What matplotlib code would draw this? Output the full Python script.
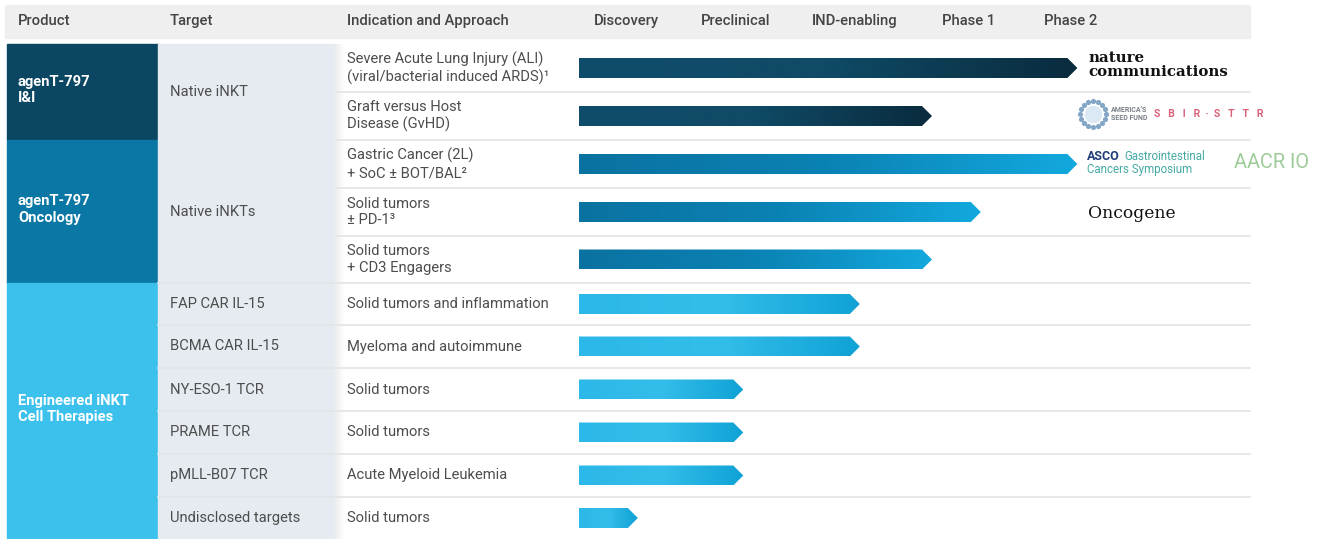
import matplotlib
matplotlib.use("Agg")
import matplotlib.pyplot as plt
import numpy as np
from matplotlib.patches import Polygon, Rectangle
from matplotlib.colors import LinearSegmentedColormap

plt.rcParams['font.family'] = ['Roboto', 'DejaVu Sans']

# ---------------- data ----------------
stages = ["Discovery", "Preclinical", "IND-enabling", "Phase 1", "Phase 2"]
products = ["agenT-797\nI&I", "agenT-797\nOncology", "Engineered iNKT\nCell Therapies"]
product_rows = [(0, 2), (2, 5), (5, 11)]          # row span of each product
targets_merged = [("Native iNKT", 0, 2), ("Native iNKTs", 2, 5)]
targets_single = ["FAP CAR IL-15", "BCMA CAR IL-15", "NY-ESO-1 TCR",
                  "PRAME TCR", "pMLL-B07 TCR", "Undisclosed targets"]
indications = [
    "Severe Acute Lung Injury (ALI)\n(viral/bacterial induced ARDS)\u00b9",
    "Graft versus Host\nDisease (GvHD)",
    "Gastric Cancer (2L)\n+ SoC \u00b1 BOT/BAL\u00b2",
    "Solid tumors\n\u00b1 PD-1\u00b3",
    "Solid tumors\n+ CD3 Engagers",
    "Solid tumors and inflammation",
    "Myeloma and autoimmune",
    "Solid tumors",
    "Solid tumors",
    "Acute Myeloid Leukemia",
    "Solid tumors",
]
# progress in stage units (0 = start of Discovery, 5 = end of Phase 2)
progress = [4.49, 3.18, 4.49, 3.62, 3.18, 2.53, 2.53, 1.48, 1.48, 1.48, 0.53]
bar_group = [0, 0, 1, 1, 1, 2, 2, 2, 2, 2, 2]

# ---------------- layout (pixels) ----------------
W, H = 1323, 539
row_edges = [44, 92, 140, 188, 236, 283, 325, 368, 411, 454, 497, 539]
product_colors = ["#0b4762", "#0a77a4", "#3cc0ec"]
grad_colors = [("#0f4d6b", "#0f4a66", "#0a2b3d"),
               ("#0a72a0", "#0b82b4", "#13a9de"),
               ("#2cb8e8", "#33bdea", "#10a2d5")]
target_bg = "#e5ebf1"
sep_color = "#e2e5e8"
text_gray = "#4d4d4d"
FS = 10.6

fig = plt.figure(figsize=(W / 100, H / 100), dpi=100)
ax = fig.add_axes([0, 0, 1, 1])
ax.set_xlim(0, W)
ax.set_ylim(H, 0)
ax.axis("off")

# header band
ax.add_patch(Rectangle((5, 5), 1245, 33, color="#efefef", zorder=0))
hdr_x = [18, 170, 347]
for x, t in zip(hdr_x, ["Product", "Target", "Indication and Approach"]):
    ax.text(x, 21, t, fontsize=FS, color="#444444", va="center", ha="left",
            fontweight="medium")
stage_x = [594, 701, 812, 942, 1044]
for x, t in zip(stage_x, stages):
    ax.text(x, 21, t, fontsize=FS, color="#444444", va="center", ha="left",
            fontweight="medium")

# product blocks
for (r0, r1), name, c in zip(product_rows, products, product_colors):
    y0, y1 = row_edges[r0], row_edges[r1]
    ax.add_patch(Rectangle((7, y0), 151, y1 - y0, color=c, zorder=1))
    ax.text(18, (y0 + y1) / 2 - 2, name, fontsize=FS, color="white",
            fontweight="bold", va="center", ha="left", linespacing=1.25, zorder=3)

# target column background
ax.add_patch(Rectangle((158, 44), 177, H - 44, color=target_bg, zorder=1))
for name, r0, r1 in targets_merged:
    ax.text(170, (row_edges[r0] + row_edges[r1]) / 2, name, fontsize=FS,
            color=text_gray, va="center", ha="left", zorder=3)
for i, name in enumerate(targets_single):
    r = 5 + i
    ax.text(170, (row_edges[r] + row_edges[r + 1]) / 2, name, fontsize=FS,
            color=text_gray, va="center", ha="left", zorder=3)

# slight shadow at left of indication column
shade = np.linspace(0.93, 1.0, 20).reshape(1, -1)
ax.imshow(shade, extent=[335, 345, H, 44], cmap="gray", vmin=0, vmax=1,
          aspect="auto", zorder=1)
ax.set_xlim(0, W)
ax.set_ylim(H, 0)

# separators
for i, y in enumerate(row_edges[1:-1], start=1):
    xs = 158 if i >= 5 else 337
    ax.plot([xs, 1250], [y, y], color=sep_color, lw=1.2, zorder=2)

# indications
for i, t in enumerate(indications):
    yc = (row_edges[i] + row_edges[i + 1]) / 2
    ax.text(347, yc, t, fontsize=FS, color=text_gray, va="center", ha="left",
            linespacing=1.25, zorder=3)

# ---------------- bars in stage units ----------------
x0_px, stage_px = 579, 111
axb = fig.add_axes([x0_px / W, 0, 5 * stage_px / W, 1])
axb.set_xlim(0, 5)
axb.set_ylim(H, 0)
axb.axis("off")
axb.patch.set_alpha(0)

bar_h = 20
tip = 10 / stage_px
for i, (v, g) in enumerate(zip(progress, bar_group)):
    yc = (row_edges[i] + row_edges[i + 1]) / 2
    ya, yb = yc - bar_h / 2, yc + bar_h / 2
    poly = Polygon([(0, ya), (v - tip, ya), (v, yc), (v - tip, yb), (0, yb)],
                   closed=True, facecolor="none", edgecolor="none")
    axb.add_patch(poly)
    cmap = LinearSegmentedColormap.from_list("g%d" % i, list(grad_colors[g]))
    grad = np.linspace(0, 1, 256).reshape(1, -1)
    im = axb.imshow(grad, extent=[0, v, yb, ya], cmap=cmap, aspect="auto",
                    zorder=3)
    im.set_clip_path(poly)
axb.set_xlim(0, 5)
axb.set_ylim(H, 0)

# ---------------- logos (as text) ----------------
ax.text(1088, 65, "nature\ncommunications", fontsize=10.8, family="DejaVu Serif",
        fontweight="bold", color="#111111", va="center", ha="left",
        linespacing=1.0, zorder=3)
# seed fund ring
ang = np.linspace(0, 2 * np.pi, 16, endpoint=False)
ax.scatter(1093 + 13 * np.cos(ang), 114 + 13 * np.sin(ang), s=14, color="#5a88b5",
           marker="o", zorder=3, alpha=0.75, linewidths=0)
ax.scatter([1093], [114], s=160, color="#dbe9f5", zorder=3, linewidths=0)
ax.text(1111, 114, "AMERICA'S\nSEED FUND", fontsize=5, color="#7a7f88",
        fontweight="bold", va="center", ha="left", linespacing=1.1, zorder=3)
ax.text(1154, 114, "S   B   I   R  \u00b7  S   T   T   R", fontsize=7.5,
        color="#d9627a", fontweight="bold", va="center", ha="left", zorder=3)
ax.text(1087, 156, "ASCO", fontsize=9, color="#1f3c78", fontweight="bold",
        va="center", ha="left", zorder=3)
ax.text(1124, 156, "Gastrointestinal", fontsize=8.3, color="#45aaa3",
        va="center", ha="left", zorder=3)
ax.text(1087, 170, "Cancers Symposium", fontsize=8.3, color="#45aaa3",
        va="center", ha="left", zorder=3)
ax.text(1234, 163, "AACR IO", fontsize=14.3, color="#9ccb98", va="center",
        ha="left", zorder=3)
ax.text(1088, 213, "Oncogene", fontsize=12.3, family="DejaVu Serif", color="#111111",
        va="center", ha="left", zorder=3)

fig.savefig("out.png", dpi=100, facecolor="white")
